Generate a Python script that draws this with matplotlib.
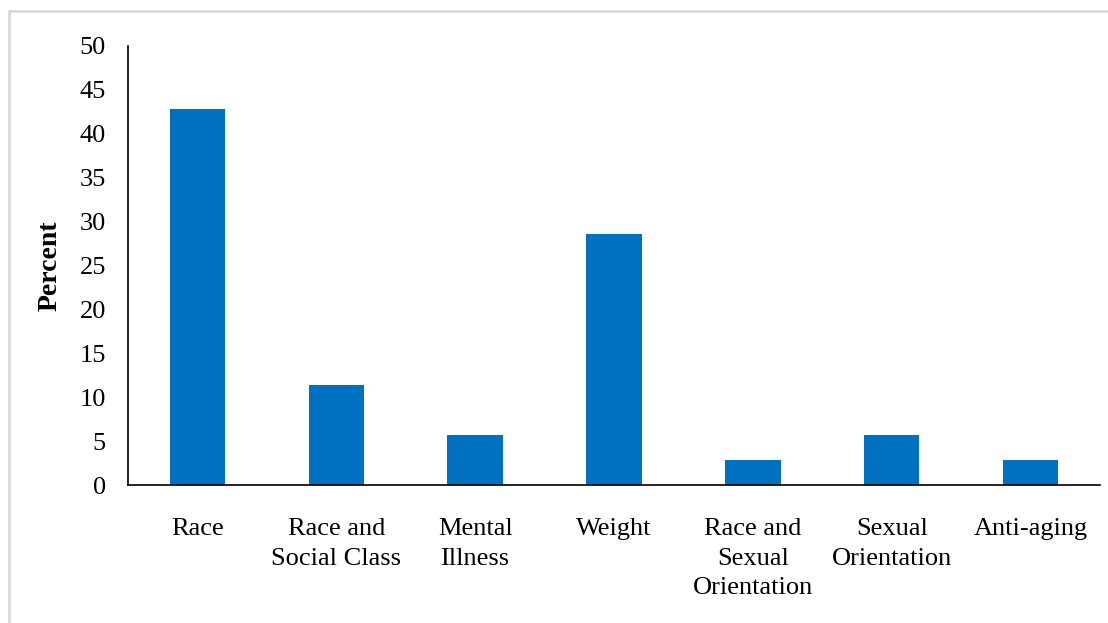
import matplotlib
matplotlib.use("Agg")
import matplotlib.pyplot as plt
from matplotlib.patches import Rectangle

categories = ["Race", "Race and\nSocial Class", "Mental\nIllness", "Weight",
              "Race and\nSexual\nOrientation", "Sexual\nOrientation", "Anti-aging"]
percent = [42.86, 11.43, 5.71, 28.57, 2.86, 5.71, 2.86]
yticks = [0, 5, 10, 15, 20, 25, 30, 35, 40, 45, 50]

plt.rcParams['font.family'] = ['Liberation Serif', 'DejaVu Serif']

W, H = 1108, 623
fig = plt.figure(figsize=(W / 100, H / 100), dpi=100)
fig.patches.append(Rectangle((9 / W, -0.1), 1.2, (H - 11) / H + 0.1, transform=fig.transFigure,
                             fill=False, edgecolor='#d9d9d9', linewidth=2))
ax = fig.add_axes([128 / W, 1 - 485 / H, 972 / W, (485 - 46) / H])

x = range(len(categories))
ax.bar(x, percent, width=0.4, color='#0070C0')
ax.set_xlim(-0.5, len(categories) - 0.5)
ax.set_ylim(0, 50)
ax.set_yticks(yticks)
ax.set_yticklabels([str(v) for v in yticks], fontsize=19)
ax.set_xticks(list(x))
ax.set_xticklabels(categories, fontsize=19, linespacing=1.43, va='top')
ax.tick_params(axis='both', length=0)
ax.tick_params(axis='y', pad=16)
ax.tick_params(axis='x', pad=24)
for s in ['top', 'right']:
    ax.spines[s].set_visible(False)
ax.spines['left'].set_linewidth(1.2)
ax.spines['bottom'].set_linewidth(1.2)
ax.set_ylabel('Percent', fontsize=20, fontweight='bold', labelpad=12)

fig.savefig('out.png', dpi=100)
